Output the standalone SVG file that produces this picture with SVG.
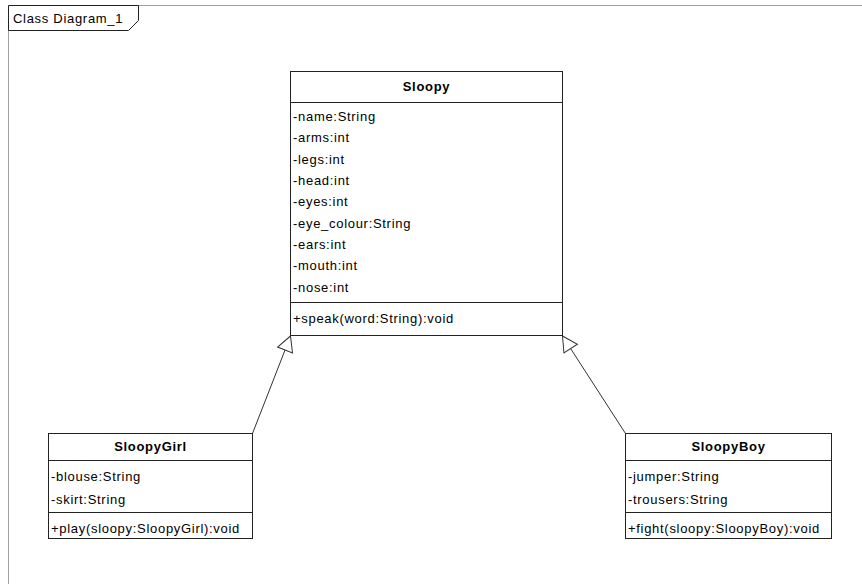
<svg xmlns="http://www.w3.org/2000/svg" width="862" height="584" viewBox="0 0 862 584">
<style>
text{font-family:"Liberation Sans",Arial,sans-serif;font-size:13px;letter-spacing:0.7px;fill:#000}
.t{font-weight:bold;text-anchor:middle}
.box{fill:#fff;stroke:#222;stroke-width:1}
.sep{stroke:#222;stroke-width:1}
.frame{stroke:#a0a0a0;stroke-width:1;fill:none}
.conn{stroke:#333;stroke-width:1;fill:none;marker-end:url(#gen)}
</style>
<defs>
<marker id="gen" markerUnits="userSpaceOnUse" viewBox="-17 -10 19 20" refX="0" refY="0" markerWidth="19" markerHeight="20" orient="auto">
<path d="M0,0 L-15,-8 L-15,8 Z" fill="#fff" stroke="#333" stroke-width="1"/>
</marker>
</defs>
<rect width="862" height="584" fill="#fff"/>
<g id="frame">
<line class="frame" x1="138" y1="5.5" x2="862" y2="5.5"/>
<line class="frame" x1="8.5" y1="30" x2="8.5" y2="584"/>
<path d="M8.5,5.5 H138.5 V20.5 L128.5,30.5 H8.5 Z" fill="#fff" stroke="#222" stroke-width="1"/>
<text x="13" y="23">Class Diagram_1</text>
</g>
<g id="connectors">
<line class="conn" x1="252.5" y1="433.5" x2="290.5" y2="336"/>
<line class="conn" x1="625.5" y1="433.5" x2="562.5" y2="336"/>
</g>
<g id="Sloopy">
<rect class="box" x="290.5" y="71.5" width="272" height="264"/>
<line class="sep" x1="290.5" y1="102.5" x2="562.5" y2="102.5"/>
<line class="sep" x1="290.5" y1="302.5" x2="562.5" y2="302.5"/>
<text class="t" x="426.5" y="91">Sloopy</text>
<text x="293" y="121">-name:String</text>
<text x="293" y="142">-arms:int</text>
<text x="293" y="163.5">-legs:int</text>
<text x="293" y="185">-head:int</text>
<text x="293" y="206">-eyes:int</text>
<text x="293" y="227.5">-eye_colour:String</text>
<text x="293" y="249">-ears:int</text>
<text x="293" y="270">-mouth:int</text>
<text x="293" y="291.5">-nose:int</text>
<text x="293" y="322.5">+speak(word:String):void</text>
</g>
<g id="SloopyGirl">
<rect class="box" x="48.5" y="433.5" width="204" height="105"/>
<line class="sep" x1="48.5" y1="460.5" x2="252.5" y2="460.5"/>
<line class="sep" x1="48.5" y1="512.5" x2="252.5" y2="512.5"/>
<text class="t" x="150.5" y="451">SloopyGirl</text>
<text x="51" y="481">-blouse:String</text>
<text x="51" y="503.5">-skirt:String</text>
<text x="51" y="533">+play(sloopy:SloopyGirl):void</text>
</g>
<g id="SloopyBoy">
<rect class="box" x="625.5" y="433.5" width="206" height="105"/>
<line class="sep" x1="625.5" y1="460.5" x2="831.5" y2="460.5"/>
<line class="sep" x1="625.5" y1="512.5" x2="831.5" y2="512.5"/>
<text class="t" x="728.5" y="451">SloopyBoy</text>
<text x="628" y="481">-jumper:String</text>
<text x="628" y="503.5">-trousers:String</text>
<text x="628" y="533">+fight(sloopy:SloopyBoy):void</text>
</g>
</svg>
